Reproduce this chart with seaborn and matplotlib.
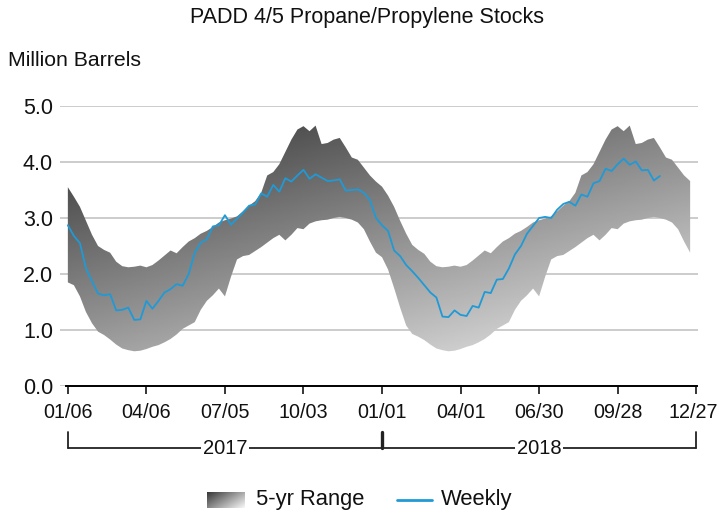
import numpy as np
import pandas as pd
import matplotlib
matplotlib.use("Agg")
import matplotlib.pyplot as plt
import matplotlib.transforms as mtrans
import seaborn as sns
from matplotlib.lines import Line2D

# ---------------- data ----------------
tick_labels = ["01/06", "04/06", "07/05", "10/03", "01/01", "04/01", "06/30", "09/28", "12/27"]
tick_weeks = [0, 13, 26, 39, 52, 65, 78, 91, 104]
years = ["2017", "2018"]
y_ticks = [0, 1, 2, 3, 4, 5]

# 5-year range, read week by week
range_max_2017 = [3.55, 3.38, 3.20, 2.95, 2.70, 2.50, 2.43, 2.38, 2.22, 2.14,
                  2.12, 2.13, 2.15, 2.12, 2.16, 2.24, 2.33, 2.42, 2.37, 2.48,
                  2.58, 2.64, 2.72, 2.77, 2.84, 2.92, 2.96, 2.99, 3.03, 3.12,
                  3.22, 3.30, 3.45, 3.76, 3.82, 3.96, 4.18, 4.40, 4.58, 4.64,
                  4.55, 4.65, 4.32, 4.34, 4.40, 4.43, 4.26, 4.08, 4.04, 3.90,
                  3.76, 3.65]
range_min_2017 = [1.85, 1.80, 1.60, 1.32, 1.12, 0.97, 0.91, 0.83, 0.74, 0.67,
                  0.64, 0.62, 0.63, 0.66, 0.70, 0.73, 0.78, 0.84, 0.92, 1.02,
                  1.08, 1.14, 1.36, 1.52, 1.62, 1.74, 1.60, 1.95, 2.26, 2.32,
                  2.34, 2.41, 2.48, 2.56, 2.64, 2.70, 2.60, 2.70, 2.82, 2.80,
                  2.90, 2.94, 2.96, 2.97, 3.00, 3.02, 3.00, 2.97, 2.92, 2.80,
                  2.58, 2.38]
range_max_2018 = [3.56, 3.40, 3.20, 2.95, 2.72, 2.52, 2.43, 2.36, 2.22, 2.14,
                  2.12, 2.13, 2.15, 2.13, 2.16, 2.24, 2.33, 2.42, 2.37, 2.48,
                  2.58, 2.64, 2.72, 2.77, 2.84, 2.92, 2.96, 2.99, 3.03, 3.12,
                  3.22, 3.30, 3.45, 3.76, 3.82, 3.96, 4.18, 4.40, 4.58, 4.64,
                  4.55, 4.65, 4.32, 4.34, 4.40, 4.43, 4.26, 4.08, 4.04, 3.90,
                  3.76, 3.66]
range_min_2018 = [2.30, 2.08, 1.75, 1.40, 1.08, 0.93, 0.88, 0.82, 0.74, 0.67,
                  0.64, 0.62, 0.63, 0.66, 0.70, 0.73, 0.78, 0.84, 0.92, 1.02,
                  1.08, 1.14, 1.36, 1.52, 1.62, 1.74, 1.60, 1.95, 2.26, 2.32,
                  2.34, 2.41, 2.48, 2.56, 2.64, 2.70, 2.60, 2.70, 2.82, 2.80,
                  2.90, 2.94, 2.96, 2.97, 3.00, 3.02, 3.00, 2.97, 2.92, 2.80,
                  2.58, 2.38]
weekly = [2.87, 2.68, 2.55, 2.10, 1.87, 1.65, 1.62, 1.64, 1.35, 1.36,
          1.40, 1.18, 1.19, 1.52, 1.38, 1.52, 1.67, 1.73, 1.82, 1.79,
          2.00, 2.38, 2.56, 2.62, 2.85, 2.87, 3.05, 2.88, 2.99, 3.10,
          3.22, 3.24, 3.44, 3.38, 3.59, 3.47, 3.71, 3.65, 3.76, 3.86,
          3.70, 3.78, 3.72, 3.66, 3.67, 3.69, 3.49, 3.50, 3.51, 3.45,
          3.32, 3.00, 2.87, 2.77, 2.42, 2.32, 2.16, 2.05, 1.93, 1.80,
          1.67, 1.58, 1.24, 1.23, 1.35, 1.27, 1.25, 1.43, 1.40, 1.68,
          1.66, 1.90, 1.91, 2.10, 2.35, 2.50, 2.72, 2.86, 3.00, 3.02,
          3.00, 3.15, 3.25, 3.29, 3.22, 3.42, 3.38, 3.62, 3.66, 3.88,
          3.84, 3.96, 4.06, 3.95, 4.01, 3.85, 3.86, 3.67, 3.75]

BLUE = "#1f9ad6"
TXT = "#111111"

sns.set_theme(style="white")
plt.rcParams["font.family"] = ["Liberation Sans", "DejaVu Sans"]

W_PX, H_PX = 719, 516
fig = plt.figure(figsize=(W_PX / 100, H_PX / 100), dpi=100)
XL, XR = -1.3, 104.3
ax = fig.add_axes([60 / W_PX, 1 - 386 / H_PX, (698 - 60) / W_PX, 280 / H_PX])

# band
band_max = np.array(range_max_2017 + range_max_2018)
band_min = np.array(range_min_2017 + range_min_2018)
band_df = pd.DataFrame({"week": np.arange(len(band_max)), "lo": band_min, "hi": band_max})
poly = ax.fill_between(band_df["week"], band_df["lo"], band_df["hi"],
                       facecolor="none", edgecolor="none")
gw, gy = np.meshgrid(np.linspace(XL, XR, 500), np.linspace(0, 5, 250))
grad = np.clip(172 + 0.77 * gw - 26 * gy, 0, 255) / 255.0
im = ax.imshow(grad, extent=(XL, XR, 0, 5), origin="lower", cmap="gray",
               vmin=0, vmax=1, aspect="auto", zorder=1, interpolation="bilinear")
im.set_clip_path(poly.get_paths()[0], transform=ax.transData)

# weekly line
wk_df = pd.DataFrame({"week": np.arange(len(weekly)), "value": weekly})
sns.lineplot(data=wk_df, x="week", y="value", ax=ax, color=BLUE, linewidth=1.3,
             zorder=3, legend=False)

ax.set_xlim(XL, XR)
ax.set_ylim(0, 5)
ax.set_xlabel("")
ax.set_ylabel("")

ax.set_yticks(y_ticks)
ax.set_yticklabels([f"{v:.1f}" for v in y_ticks])
ax.set_xticks(tick_weeks)
ax.set_xticklabels(tick_labels)
ax.yaxis.grid(True, color="#c8c8c8", linewidth=1.3, zorder=0)
ax.xaxis.grid(False)
ax.set_axisbelow(True)
for s in ["left", "right", "top"]:
    ax.spines[s].set_visible(False)
ax.spines["bottom"].set_color("black")
ax.spines["bottom"].set_linewidth(1.4)
ax.spines["bottom"].set_bounds(-0.3, 104.2)
ax.spines["bottom"].set_zorder(4)
ax.tick_params(axis="x", bottom=True, direction="out", length=6, width=1.1,
               color="black", labelsize=14.2, pad=6, labelcolor=TXT)
ax.tick_params(axis="y", left=False, length=0, labelsize=15.5, pad=5,
               labelcolor=TXT)
# keep the last date label inside the canvas
last_lbl = ax.get_xticklabels()[-1]
last_lbl.set_transform(last_lbl.get_transform() +
                       mtrans.ScaledTranslation(-3 / 100, 0, fig.dpi_scale_trans))

# year bracket
trans = ax.get_xaxis_transform()
y_line = (386 - 448) / 280
y_top = (386 - 432) / 280
ax.plot([0, 104], [y_line, y_line], transform=trans, color="#222222", lw=1.3,
        clip_on=False, zorder=5)
for xv, lw in [(0, 1.3), (52, 2.4), (104, 1.3)]:
    ax.plot([xv, xv], [y_top, y_line], transform=trans, color="#222222", lw=lw,
            clip_on=False, zorder=5)
for i, yr in enumerate(years):
    ax.text(26 + 52 * i, y_line, yr, transform=trans, ha="center", va="center",
            fontsize=14.5, color=TXT, zorder=6,
            bbox=dict(facecolor="white", edgecolor="none", pad=1.0))

# titles
fig.text(367 / W_PX, 1 - 18 / H_PX, "PADD 4/5 Propane/Propylene Stocks",
         ha="center", va="center", fontsize=15.5, color=TXT)
fig.text(8 / W_PX, 1 - 60 / H_PX, "Million Barrels", ha="left", va="center",
         fontsize=15.3, color=TXT)

# legend
lax = fig.add_axes([207 / W_PX, 1 - 508 / H_PX, 38 / W_PX, 16 / H_PX])
lx, ly = np.meshgrid(np.linspace(0, 1, 60), np.linspace(0, 1, 30))
lgrad = np.clip(0.22 + 0.45 * lx + 0.3 * (1 - ly), 0, 1)
lax.imshow(lgrad, cmap="gray", vmin=0, vmax=1, aspect="auto", origin="lower")
lax.set_axis_off()
ly_c = 1 - 500 / H_PX
fig.text(256 / W_PX, ly_c, "5-yr Range", ha="left", va="center", fontsize=15.8,
         color=TXT)
fig.add_artist(Line2D([397 / W_PX, 432 / W_PX], [ly_c, ly_c],
                      transform=fig.transFigure, color=BLUE, lw=2))
fig.text(441 / W_PX, ly_c, "Weekly", ha="left", va="center", fontsize=15.8,
         color=TXT)

fig.savefig("out.png", dpi=100)
